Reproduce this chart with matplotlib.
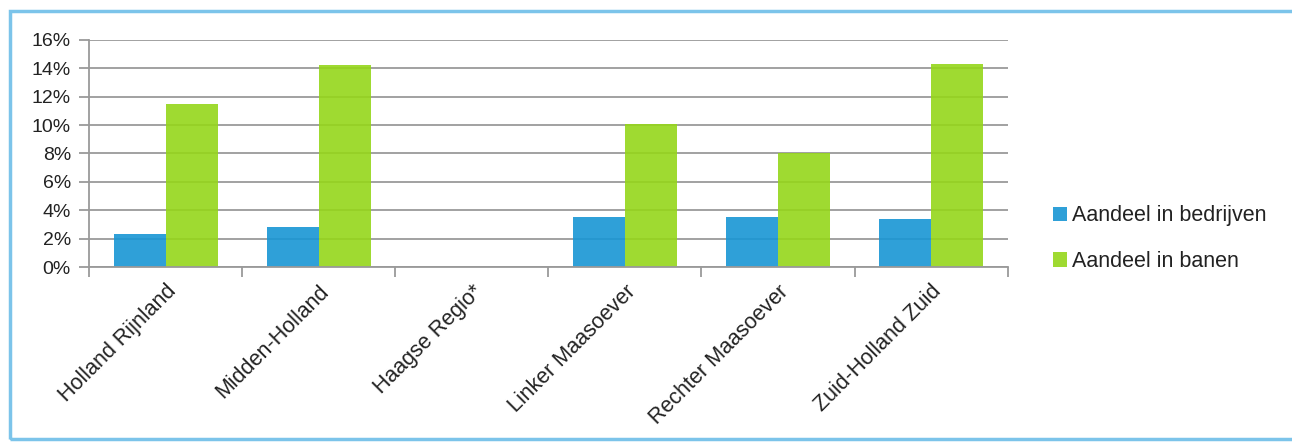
import numpy as np
import matplotlib
matplotlib.use("Agg")
import matplotlib.pyplot as plt
from matplotlib.patches import Rectangle
from matplotlib.ticker import FuncFormatter, MultipleLocator

plt.rcParams["font.family"] = ["Liberation Sans", "DejaVu Sans"]

# data
regios = ["Holland Rijnland", "Midden-Holland", "Haagse Regio*",
          "Linker Maasoever", "Rechter Maasoever", "Zuid-Holland Zuid"]
aandeel_bedrijven = [2.35, 2.8, 0.0, 3.5, 3.5, 3.4]
aandeel_banen = [11.5, 14.2, 0.0, 10.1, 8.0, 14.3]

blauw = "#1896d4"
groen = "#95d61a"
tekst = "#222222"

fig = plt.figure(figsize=(12.92, 4.48), dpi=100)
ax = fig.add_axes([0.0689, 0.404, 0.711, 0.507])

x = np.arange(len(regios))
w = 0.34
ax.bar(x - w / 2, aandeel_bedrijven, w, color=blauw, alpha=0.9,
       label="Aandeel in bedrijven", zorder=2)
ax.bar(x + w / 2, aandeel_banen, w, color=groen, alpha=0.9,
       label="Aandeel in banen", zorder=2)

ax.set_xlim(-0.5, len(regios) - 0.5)
ax.set_ylim(0, 16)
ax.yaxis.set_major_locator(MultipleLocator(2))
ax.yaxis.set_major_formatter(FuncFormatter(lambda v, p: "%d%%" % v))
ax.grid(axis="y", color="#9a9a9a", linewidth=1.3, zorder=1)
ax.set_axisbelow(True)

# x ticks between groups, labels at group centres
ax.set_xticks(np.arange(len(regios) + 1) - 0.5)
ax.set_xticklabels([])
ax.set_xticks(x, minor=True)
ax.set_xticklabels(regios, minor=True, rotation=45, ha="right",
                   rotation_mode="anchor", fontsize=15.5, color=tekst)
ax.tick_params(axis="x", which="minor", length=0, pad=10)
ax.tick_params(axis="x", which="major", length=7, color="#9a9a9a", width=1.3)
ax.tick_params(axis="y", length=7, color="#9a9a9a", width=1.3,
               labelsize=14, labelcolor=tekst, pad=6)

for s in ["top", "right"]:
    ax.spines[s].set_visible(False)
for s in ["left", "bottom"]:
    ax.spines[s].set_color("#9a9a9a")
    ax.spines[s].set_linewidth(1.3)

leg = fig.legend(loc="upper left", bbox_to_anchor=(0.8, 0.585), frameon=False,
                 fontsize=15.5, handlelength=0.65, handleheight=0.65, handletextpad=0.25,
                 labelspacing=1.15)
for t in leg.get_texts():
    t.set_color(tekst)

# blue frame around the chart
fig.patches.append(Rectangle((0.008, 0.02), 1.2, 0.955, transform=fig.transFigure,
                             fill=False, edgecolor="#7cc4ea", linewidth=2.5))

fig.savefig("out.png", dpi=100)
